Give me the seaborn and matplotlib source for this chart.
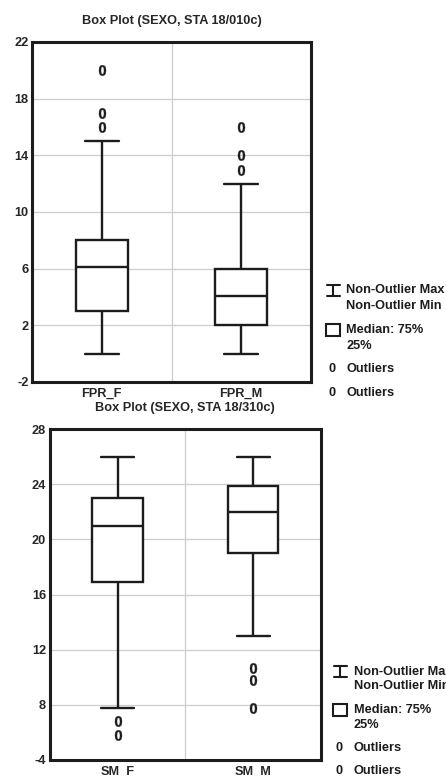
import numpy as np
import pandas as pd
import matplotlib
matplotlib.use("Agg")
import matplotlib.pyplot as plt
from matplotlib.lines import Line2D
from matplotlib.patches import Rectangle
import seaborn as sns

# ---------------- data ----------------
top_title = "Box Plot (SEXO, STA 18/010c)"
top_groups = ["FPR_F", "FPR_M"]
top_lo = [0, 0]
top_q1 = [3, 2]
top_med = [6.1, 4.1]
top_q3 = [8, 6]
top_hi = [15, 12]
top_outliers = [[16, 17, 20], [13, 14, 16]]
top_yticks = [-2, 2, 6, 10, 14, 18, 22]
top_yticklabels = ["-2", "2", "6", "10", "14", "18", "22"]

bottom_title = "Box Plot (SEXO, STA 18/310c)"
bottom_groups = ["SM_F", "SM_M"]
bottom_lo = [7.8, 13]
bottom_q1 = [16.9, 19]
bottom_med = [21, 22]
bottom_q3 = [23, 23.9]
bottom_hi = [26, 26]
bottom_outliers = [[5.8, 6.8], [7.8, 9.8, 10.7]]
bottom_yticks = [4, 8, 12, 16, 20, 24, 28]
bottom_yticklabels = ["-4", "8", "12", "16", "20", "24", "28"]

legend_lines = ["Non-Outlier Max", "Non-Outlier Min", "Median: 75%", "25%",
                "Outliers", "Outliers"]

# ---------------- helpers ----------------
def build_sample(lo, q1, med, q3, hi, outliers):
    """Repeat the read summary values so that the box statistics match."""
    low_out = [v for v in outliers if v < q1]
    high_out = [v for v in outliers if v > q3]
    L = 1 + len(low_out)
    H = 1 + len(high_out)
    for a in range(1, 300):
        b = L + a - H
        if b < 1:
            continue
        s = sorted(low_out + [lo] + [q1] * a + [med] + [q3] * b + [hi] + high_out)
        p = np.percentile(s, [25, 50, 75])
        if np.allclose(p, [q1, med, q3]):
            return s
    raise ValueError("no sample")


def frame(groups, lo, q1, med, q3, hi, outs):
    rows = []
    for i, g in enumerate(groups):
        for v in build_sample(lo[i], q1[i], med[i], q3[i], hi[i], outs[i]):
            rows.append({"var": g, "value": v})
    return pd.DataFrame(rows)


df_top = frame(top_groups, top_lo, top_q1, top_med, top_q3, top_hi, top_outliers)
df_bot = frame(bottom_groups, bottom_lo, bottom_q1, bottom_med, bottom_q3,
               bottom_hi, bottom_outliers)

# ---------------- style ----------------
sns.set_style("white")
plt.rcParams["font.family"] = ["Liberation Sans", "DejaVu Sans"]
plt.rcParams["font.weight"] = "bold"
plt.rcParams["mathtext.fontset"] = "custom"
plt.rcParams["mathtext.bf"] = "Liberation Sans:bold"
plt.rcParams["mathtext.rm"] = "Liberation Sans:bold"

INK = "#1c1c1c"
FS = 9.2
W, Hh = 446, 776

fig = plt.figure(figsize=(W / 100, Hh / 100), dpi=100)
fig.patch.set_facecolor("white")


def px_axes(left, top, right, bottom):
    return fig.add_axes([left / W, 1 - bottom / Hh, (right - left) / W,
                         (bottom - top) / Hh])


ax1 = px_axes(32, 42, 311, 382)
ax2 = px_axes(49.7, 429, 321, 760)


def draw_panel(ax, df, groups, title, yticks, yticklabels):
    sns.boxplot(data=df, x="var", y="value", order=groups, ax=ax,
                color="white", linecolor=INK, linewidth=1.7, width=0.37,
                capwidths=0.245, whis=1.5,
                flierprops=dict(marker=r"$\mathbf{0}$", markersize=7.5,
                                markerfacecolor=INK, markeredgecolor=INK,
                                markeredgewidth=0.25))
    ax.set_xlim(-0.5, 1.5)
    ax.set_ylim(yticks[0], yticks[-1])
    ax.set_yticks(yticks)
    ax.set_yticklabels(yticklabels)
    ax.set_xticks(range(len(groups)))
    ax.set_xticklabels(groups)
    ax.set_xticks([0.5], minor=True)
    ax.set_xlabel("")
    ax.set_ylabel("")
    ax.set_axisbelow(True)
    ax.grid(True, axis="y", which="major", color="#cdcdcd", linewidth=0.9)
    ax.grid(True, axis="x", which="minor", color="#cdcdcd", linewidth=0.9)
    ax.tick_params(axis="both", which="both", length=0, labelsize=FS)
    ax.tick_params(axis="y", pad=2.5)
    ax.tick_params(axis="x", pad=4)
    for s in ax.spines.values():
        s.set_visible(True)
        s.set_linewidth(2.2)
        s.set_color(INK)
        s.set_zorder(5)
    ax.set_title(title, fontsize=FS, fontweight="bold", pad=13)


draw_panel(ax1, df_top, top_groups, top_title, top_yticks, top_yticklabels)
draw_panel(ax2, df_bot, bottom_groups, bottom_title, bottom_yticks,
           bottom_yticklabels)


def fx(x):
    return x / W


def fy(y):
    return 1 - y / Hh


def draw_legend(x0, y0, offs):
    # offs: y offsets of [max, min, box, 25%, out1, out2]
    tx = x0 + 13.5
    # I-beam icon
    hw, hh = 6.5, 5.5
    for (xa, ya, xb, yb) in [(x0 - hw, y0 - hh, x0 + hw, y0 - hh),
                             (x0 - hw, y0 + hh, x0 + hw, y0 + hh),
                             (x0, y0 - hh, x0, y0 + hh)]:
        fig.add_artist(Line2D([fx(xa), fx(xb)], [fy(ya), fy(yb)],
                              color=INK, linewidth=1.5,
                              transform=fig.transFigure))
    # box icon
    yb = y0 + offs[2]
    fig.add_artist(Rectangle((fx(x0 - 7), fy(yb + 6)), 14 / W, 12 / Hh,
                             facecolor="white", edgecolor=INK, linewidth=1.5,
                             transform=fig.transFigure))
    # outlier icons
    for k in (4, 5):
        fig.text(fx(x0 - 1), fy(y0 + offs[k]), "0", fontsize=FS,
                 fontweight="bold", ha="center", va="center", color=INK)
    for k, lab in enumerate(legend_lines):
        fig.text(fx(tx), fy(y0 + offs[k]), lab, fontsize=FS, fontweight="bold",
                 ha="left", va="center", color=INK)


draw_legend(333, 290, [0, 16, 40, 55.7, 79, 103])
draw_legend(340, 671.7, [0, 14.3, 38.3, 53.3, 76.3, 99])

fig.savefig("out.png", dpi=100, facecolor="white")
